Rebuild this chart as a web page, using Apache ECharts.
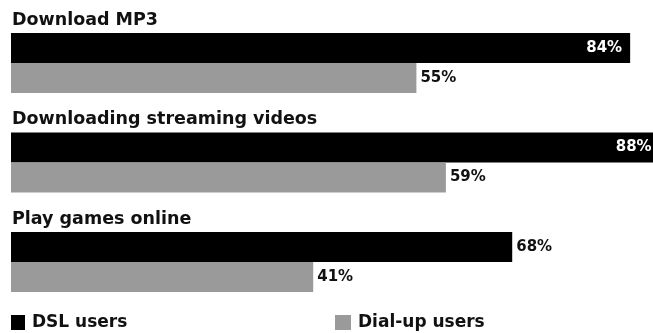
<!DOCTYPE html>
<html>
<head>
<meta charset="utf-8">
<script src="https://cdn.jsdelivr.net/npm/echarts@6/dist/echarts.min.js"></script>
<style>
html,body{margin:0;padding:0;background:#fff;}
#chart{width:653px;height:333px;}
</style>
</head>
<body>
<div id="chart"></div>
<script>
var categories = ['Download MP3', 'Downloading streaming videos', 'Play games online'];
var seriesNames = ['DSL users', 'Dial-up users'];
var dslValues = [84, 88, 68];
var dialupValues = [55, 59, 41];

var FONT = 'DejaVu Sans';
var chart = echarts.init(document.getElementById('chart'), null, {renderer: 'canvas'});
chart.setOption({
  backgroundColor: '#ffffff',
  animation: false,
  grid: {left: 11, top: 13.25, right: 0, height: 298.5, containLabel: false},
  xAxis: {type: 'value', min: 0, max: 87.1, show: false},
  yAxis: {
    type: 'category', inverse: true, data: categories,
    axisLine: {show: false}, axisTick: {show: false}, splitLine: {show: false},
    axisLabel: {
      inside: true, margin: 1, interval: 0, align: 'left', verticalAlign: 'bottom',
      hideOverlap: false,
      formatter: function (v) { return '{t|' + v + '}\n{s|}'; },
      rich: {
        t: {fontFamily: FONT, fontWeight: 'bold', fontSize: 17.5, color: '#111', lineHeight: 20},
        s: {lineHeight: 33}
      }
    }
  },
  legend: [
    {data: [seriesNames[0]], left: 11, top: 314, padding: 0, itemWidth: 14, itemHeight: 15, itemGap: 0,
     icon: 'rect', textStyle: {fontFamily: FONT, fontWeight: 'bold', fontSize: 17, color: '#111', padding: [0,0,0,2]}},
    {data: [seriesNames[1]], left: 335, top: 314, padding: 0, itemWidth: 16, itemHeight: 15, itemGap: 0,
     icon: 'rect', textStyle: {fontFamily: FONT, fontWeight: 'bold', fontSize: 17, color: '#111', padding: [0,0,0,2]}}
  ],
  series: [
    {
      name: seriesNames[0], type: 'bar', barWidth: 30, barGap: '0%', clip: false,
      itemStyle: {color: '#000'},
      data: dslValues.map(function (v) {
        return v >= 80 ? {value: v, label: {position: 'insideRight', color: '#fff', distance: 8}} : v;
      }),
      label: {show: true, position: 'right', distance: 4, formatter: '{c}%',
        fontFamily: FONT, fontWeight: 'bold', fontSize: 15, color: '#111'}
    },
    {
      name: seriesNames[1], type: 'bar', barWidth: 30, barGap: '0%', clip: false,
      itemStyle: {color: '#9a9a9a'},
      data: dialupValues,
      label: {show: true, position: 'right', distance: 4, formatter: '{c}%',
        fontFamily: FONT, fontWeight: 'bold', fontSize: 15, color: '#111'}
    }
  ]
});
</script>
</body>
</html>
